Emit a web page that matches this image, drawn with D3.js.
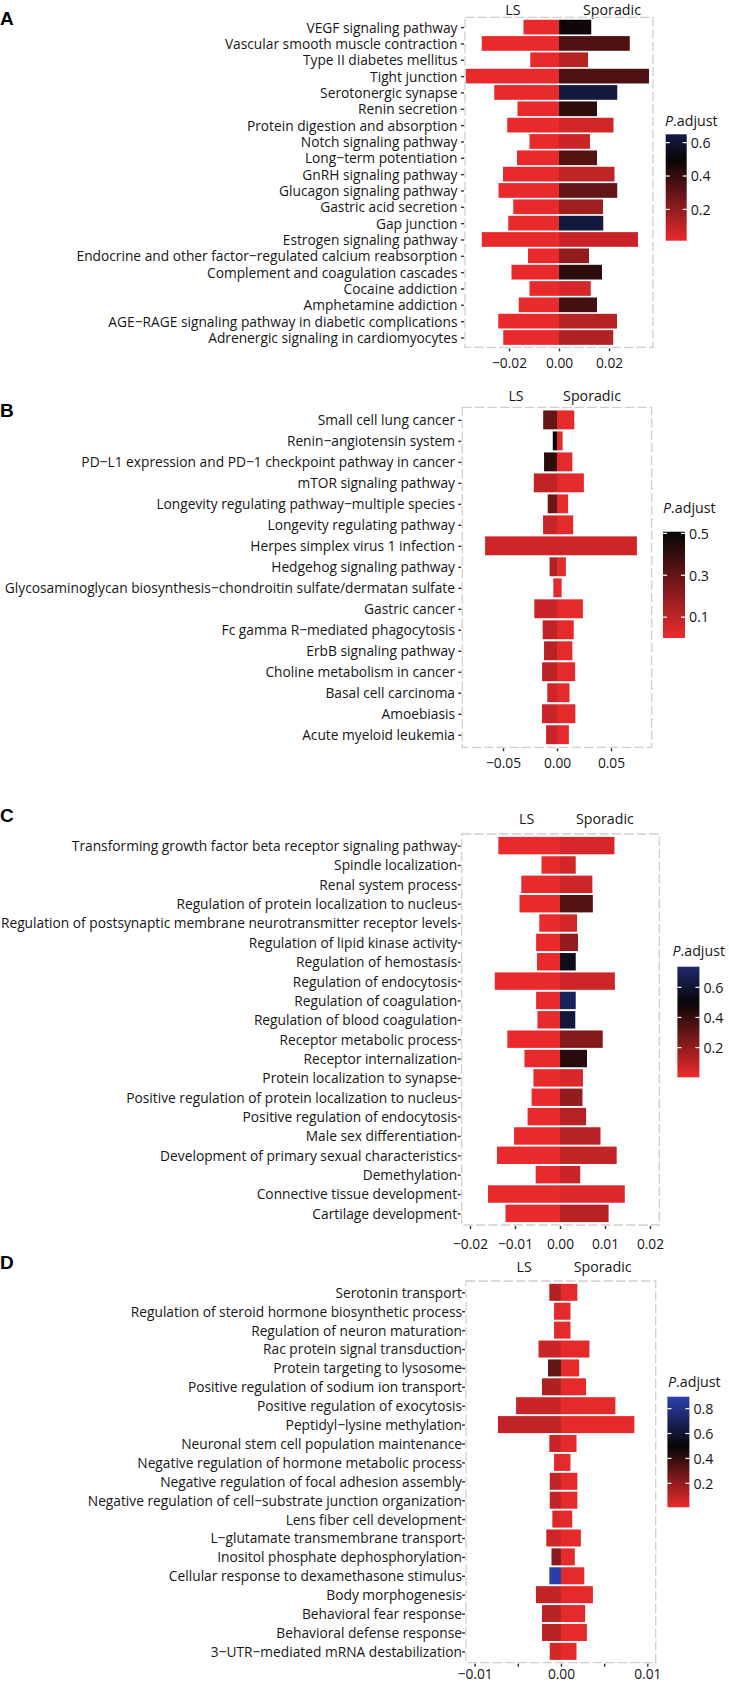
<!DOCTYPE html>
<html><head><meta charset="utf-8">
<script src="https://cdn.jsdelivr.net/npm/d3@7"></script>
<style>body{margin:0;background:#fff}svg{display:block}</style>
</head><body>
<svg id="chart" width="729" height="1683"></svg>
<script>
// ---------------- DATA ----------------
const catsA = ["VEGF signaling pathway","Vascular smooth muscle contraction","Type II diabetes mellitus","Tight junction","Serotonergic synapse","Renin secretion","Protein digestion and absorption","Notch signaling pathway","Long−term potentiation","GnRH signaling pathway","Glucagon signaling pathway","Gastric acid secretion","Gap junction","Estrogen signaling pathway","Endocrine and other factor−regulated calcium reabsorption","Complement and coagulation cascades","Cocaine addiction","Amphetamine addiction","AGE−RAGE signaling pathway in diabetic complications","Adrenergic signaling in cardiomyocytes"];
const lsA = [-0.0142,-0.0309,-0.0115,-0.0373,-0.0259,-0.0166,-0.0207,-0.0118,-0.0168,-0.0224,-0.0242,-0.0183,-0.0203,-0.0309,-0.0124,-0.0190,-0.0118,-0.0161,-0.0243,-0.0223];
const spA = [0.0129,0.0283,0.0116,0.0360,0.0233,0.0152,0.0218,0.0124,0.0152,0.0222,0.0233,0.0176,0.0177,0.0316,0.0120,0.0172,0.0127,0.0152,0.0232,0.0217];
const lsPadjA = [0.01,0.01,0.01,0.01,0.01,0.01,0.01,0.01,0.01,0.01,0.01,0.01,0.01,0.01,0.01,0.01,0.01,0.01,0.01,0.01];
const spPadjA = [0.48,0.35,0.12,0.35,0.63,0.42,0.06,0.08,0.33,0.10,0.30,0.17,0.63,0.08,0.20,0.42,0.05,0.37,0.12,0.13];
const ticksA = [-0.02,0,0.02];
const legendTicksA = [0.2,0.4,0.6];
const legendRangeA = [0.0125,0.65];

const catsB = ["Small cell lung cancer","Renin−angiotensin system","PD−L1 expression and PD−1 checkpoint pathway in cancer","mTOR signaling pathway","Longevity regulating pathway−multiple species","Longevity regulating pathway","Herpes simplex virus 1 infection","Hedgehog signaling pathway","Glycosaminoglycan biosynthesis−chondroitin sulfate/dermatan sulfate","Gastric cancer","Fc gamma R−mediated phagocytosis","ErbB signaling pathway","Choline metabolism in cancer","Basal cell carcinoma","Amoebiasis","Acute myeloid leukemia"];
const lsB = [-0.0128,-0.0039,-0.0120,-0.0215,-0.0086,-0.0129,-0.0666,-0.0069,-0.0034,-0.0210,-0.0133,-0.0120,-0.0138,-0.0090,-0.0139,-0.0101];
const spB = [0.0160,0.0052,0.0142,0.0249,0.0103,0.0150,0.0740,0.0082,0.0043,0.0240,0.0155,0.0142,0.0168,0.0116,0.0170,0.0110];
const lsPadjB = [0.30,0.50,0.42,0.10,0.28,0.08,0.07,0.13,0.03,0.08,0.10,0.12,0.11,0.07,0.08,0.08];
const spPadjB = [0.02,0.02,0.02,0.02,0.02,0.02,0.07,0.02,0.02,0.02,0.02,0.02,0.02,0.02,0.02,0.02];
const ticksB = [-0.05,0,0.05];
const legendTicksB = [0.1,0.3,0.5];
const legendRangeB = [0.0005,0.508];

const catsC = ["Transforming growth factor beta receptor signaling pathway","Spindle localization","Renal system process","Regulation of protein localization to nucleus","Regulation of postsynaptic membrane neurotransmitter receptor levels","Regulation of lipid kinase activity","Regulation of hemostasis","Regulation of endocytosis","Regulation of coagulation","Regulation of blood coagulation","Receptor metabolic process","Receptor internalization","Protein localization to synapse","Positive regulation of protein localization to nucleus","Positive regulation of endocytosis","Male sex differentiation","Development of primary sexual characteristics","Demethylation","Connective tissue development","Cartilage development"];
const lsC = [-0.0137,-0.0041,-0.0086,-0.0090,-0.0046,-0.0053,-0.0051,-0.0145,-0.0053,-0.0050,-0.0117,-0.0079,-0.0059,-0.0063,-0.0072,-0.0102,-0.0140,-0.0054,-0.0160,-0.0121];
const spC = [0.0121,0.0035,0.0072,0.0073,0.0038,0.0040,0.0035,0.0122,0.0035,0.0034,0.0095,0.0060,0.0051,0.0050,0.0058,0.0090,0.0126,0.0045,0.0144,0.0108];
const lsPadjC = [0.01,0.01,0.01,0.01,0.01,0.01,0.01,0.01,0.01,0.01,0.01,0.01,0.01,0.01,0.01,0.01,0.01,0.01,0.01,0.01];
const spPadjC = [0.05,0.06,0.07,0.33,0.06,0.20,0.55,0.07,0.70,0.62,0.23,0.43,0.05,0.20,0.12,0.12,0.10,0.08,0.04,0.12];
const ticksC = [-0.02,-0.01,0,0.01,0.02];
const legendTicksC = [0.2,0.4,0.6];
const legendRangeC = [0.003,0.737];

const catsD = ["Serotonin transport","Regulation of steroid hormone biosynthetic process","Regulation of neuron maturation","Rac protein signal transduction","Protein targeting to lysosome","Positive regulation of sodium ion transport","Positive regulation of exocytosis","Peptidyl−lysine methylation","Neuronal stem cell population maintenance","Negative regulation of hormone metabolic process","Negative regulation of focal adhesion assembly","Negative regulation of cell−substrate junction organization","Lens fiber cell development","L−glutamate transmembrane transport","Inositol phosphate dephosphorylation","Cellular response to dexamethasone stimulus","Body morphogenesis","Behavioral fear response","Behavioral defense response","3−UTR−mediated mRNA destabilization"];
const lsD = [-0.00135,-0.0008,-0.0008,-0.0026,-0.0015,-0.0022,-0.0052,-0.0073,-0.00135,-0.0008,-0.0013,-0.0013,-0.0010,-0.0017,-0.0011,-0.00135,-0.0029,-0.0022,-0.0022,-0.0013];
const spD = [0.0019,0.0011,0.0011,0.0033,0.0021,0.0029,0.0063,0.0085,0.0018,0.0011,0.0019,0.0019,0.0013,0.0023,0.0016,0.0027,0.0037,0.0028,0.0030,0.0018];
const lsPadjD = [0.13,0.03,0.03,0.08,0.30,0.14,0.08,0.10,0.08,0.03,0.10,0.10,0.04,0.07,0.22,0.88,0.10,0.12,0.12,0.06];
const spPadjD = [0.02,0.02,0.02,0.02,0.02,0.02,0.02,0.02,0.02,0.02,0.02,0.02,0.02,0.02,0.02,0.02,0.02,0.02,0.02,0.02];
const ticksD = [-0.01,-0.005,0,0.005,0.01];
const tickLabelsD = [-0.01,0,0.01];
const legendTicksD = [0.2,0.4,0.6,0.8];
const legendRangeD = [0.007,0.896];

const groupLabels = ["LS","Sporadic"];
const legendTitle = "adjust";

// ---------------- LAYOUT / STYLE ----------------
const FONT = "'Open Sans', 'Noto Sans', sans-serif";
const FS = 14.5;
const TXT = "#161616";
const color = d3.scaleLinear().domain([0,0.5,1]).range(["#EE2B2E","#080606","#374FDD"]).clamp(true);

const panels = [
  {letter:"A", cats:catsA, ls:lsA, sp:spA, lsP:lsPadjA, spP:spPadjA, ticks:ticksA, tickLabels:ticksA, lt:legendTicksA, lr:legendRangeA,
   left:465, right:653, top:17.3, bottom:347.3, dom:[-0.0376,0.0376], letterY:25, headY:15.3, hLS:0.255, hSp:0.782, tickY:368.5, gap:6.5,
   leg:{x:665.7, w:21, top:134.3, bottom:240.7, titleX:665, titleY:126}},
  {letter:"B", cats:catsB, ls:lsB, sp:spB, lsP:lsPadjB, spP:spPadjB, ticks:ticksB, tickLabels:ticksB, lt:legendTicksB, lr:legendRangeB,
   left:462.3, right:651.7, top:407.3, bottom:747.3, dom:[-0.0877,0.0877], letterY:416.7, headY:400.5, hLS:0.2835, hSp:0.685, tickY:768.5, gap:6.3,
   leg:{x:663, w:22, top:531.7, bottom:638, titleX:663, titleY:513}},
  {letter:"C", cats:catsC, ls:lsC, sp:spC, lsP:lsPadjC, spP:spPadjC, ticks:ticksC, tickLabels:ticksC, lt:legendTicksC, lr:legendRangeC,
   left:461.7, right:659.3, top:834, bottom:1225, dom:[-0.02184,0.02207], letterY:821.7, headY:823.5, hLS:0.329, hSp:0.725, tickY:1248.5, gap:3.5,
   leg:{x:677.4, w:22, top:966.7, bottom:1077.3, titleX:676, titleY:956}},
  {letter:"D", cats:catsD, ls:lsD, sp:spD, lsP:lsPadjD, spP:spPadjD, ticks:ticksD, tickLabels:tickLabelsD, lt:legendTicksD, lr:legendRangeD,
   left:466, right:655.7, top:1281, bottom:1662.7, dom:[-0.0110,0.01097], letterY:1269.3, headY:1271.5, hLS:0.307, hSp:0.7206, tickY:1678.6, gap:3,
   leg:{x:667.4, w:22, top:1396.7, bottom:1507.3, titleX:668, titleY:1387}}
];

const svg = d3.select("#chart");
svg.append("rect").attr("width",729).attr("height",1683).attr("fill","#fff");

// condensation factor measured from reference label width
const probe = svg.append("text").attr("font-family",FONT).attr("font-size",FS).attr("x",-2000).attr("y",-100)
  .text("Endocrine and other factor−regulated calcium reabsorption");
const K = 381 / probe.node().getComputedTextLength();
probe.remove();
function condense(sel){
  sel.each(function(){
    const w = this.getComputedTextLength();
    this.setAttribute("textLength", (w*K).toFixed(2));
    this.setAttribute("lengthAdjust","spacingAndGlyphs");
  });
}

const fmt2 = d3.format(".2f");
const fmt1 = d3.format(".1f");
const defs = svg.append("defs");

panels.forEach((p,pi)=>{
  const g = svg.append("g");
  const x = d3.scaleLinear().domain(p.dom).range([p.left,p.right]);
  const y = d3.scalePoint().domain(p.cats).range([p.top,p.bottom]).padding(0.6);
  const bh = y.step()*0.9;

  // panel letter
  g.append("text").attr("x",0).attr("y",p.letterY).attr("font-family","'Liberation Sans', Arial, sans-serif")
    .attr("font-weight","bold").attr("font-size",19).attr("fill","#000").text(p.letter);

  // headers
  const hdr = g.selectAll("text.hdr").data(groupLabels).join("text").attr("class","hdr")
    .attr("x",(d,i)=> p.left + (i===0?p.hLS:p.hSp)*(p.right-p.left))
    .attr("y",p.headY).attr("text-anchor","middle").attr("font-family",FONT).attr("font-size",FS+0.5)
    .attr("fill",TXT).text(d=>d);
  condense(hdr);

  // bars
  const rows = p.cats.map((c,i)=>({c, ls:p.ls[i], sp:p.sp[i], lsP:p.lsP[i], spP:p.spP[i]}));
  g.selectAll("rect.ls").data(rows).join("rect").attr("class","ls")
    .attr("x",d=>x(d.ls)).attr("width",d=>x(0)-x(d.ls))
    .attr("y",d=>y(d.c)-bh/2).attr("height",bh)
    .attr("fill",d=>color(d.lsP));
  g.selectAll("rect.sp").data(rows).join("rect").attr("class","sp")
    .attr("x",x(0)).attr("width",d=>x(d.sp)-x(0))
    .attr("y",d=>y(d.c)-bh/2).attr("height",bh)
    .attr("fill",d=>color(d.spP));

  // panel border (dashed)
  g.append("rect").attr("x",p.left).attr("y",p.top).attr("width",p.right-p.left).attr("height",p.bottom-p.top)
    .attr("fill","none").attr("stroke","#d0d0d0").attr("stroke-width",1.3).attr("stroke-dasharray","9.5,3");

  // y axis
  const ya = g.append("g").attr("transform",`translate(${p.left},0)`)
    .call(d3.axisLeft(y).tickSize(3).tickPadding(p.gap-2));
  ya.select(".domain").remove();
  ya.selectAll(".tick line").attr("stroke","#333").attr("stroke-width",1.4).attr("transform","translate(-1,0)");
  const yl = ya.selectAll(".tick text").attr("font-family",FONT).attr("font-size",FS).attr("fill",TXT).attr("dy","0.34em");
  condense(yl);

  // x axis
  const xa = g.append("g").attr("transform",`translate(0,${p.bottom})`)
    .call(d3.axisBottom(x).tickValues(p.ticks).tickSize(3).tickFormat(d=> p.tickLabels.includes(d)? fmt2(d):""));
  xa.select(".domain").remove();
  xa.selectAll(".tick line").attr("stroke","#333").attr("stroke-width",1.4).attr("transform","translate(0,1)");
  const xl = xa.selectAll(".tick text").attr("font-family",FONT).attr("font-size",FS).attr("fill",TXT)
    .attr("y",p.tickY-p.bottom).attr("dy",null);
  condense(xl);

  // legend
  const L = p.leg;
  const ls = d3.scaleLinear().domain(p.lr).range([L.bottom,L.top]);
  const gid = "grad"+pi;
  const grad = defs.append("linearGradient").attr("id",gid).attr("x1",0).attr("x2",0).attr("y1",1).attr("y2",0);
  d3.range(0,1.0001,0.05).forEach(t=>{
    const v = p.lr[0]+t*(p.lr[1]-p.lr[0]);
    grad.append("stop").attr("offset",t).attr("stop-color",color(v));
  });
  const tt = g.append("text").attr("x",L.titleX).attr("y",L.titleY).attr("font-family",FONT).attr("font-size",FS+0.5).attr("fill",TXT);
  tt.append("tspan").attr("font-style","italic").text("P");
  tt.append("tspan").text("."+legendTitle);
  tt.each(function(){
    const w=this.getComputedTextLength()*K;
    this.setAttribute("textLength",w.toFixed(2));
    this.setAttribute("lengthAdjust","spacingAndGlyphs");
    if (L.titleX + w > 725) this.setAttribute("x", (725 - w).toFixed(2));
  });
  g.append("rect").attr("x",L.x).attr("y",L.top).attr("width",L.w).attr("height",L.bottom-L.top).attr("fill",`url(#${gid})`);
  g.selectAll("line.lt").data(p.lt).join("line").attr("class","lt")
    .attr("x1",L.x+L.w-4).attr("x2",L.x+L.w).attr("y1",d=>ls(d)).attr("y2",d=>ls(d))
    .attr("stroke","#fff").attr("stroke-width",1.2);
  g.selectAll("line.lt2").data(p.lt).join("line").attr("class","lt2")
    .attr("x1",L.x).attr("x2",L.x+4).attr("y1",d=>ls(d)).attr("y2",d=>ls(d))
    .attr("stroke","#fff").attr("stroke-width",1.2);
  const lt = g.selectAll("text.ltl").data(p.lt).join("text").attr("class","ltl")
    .attr("x",L.x+L.w+4).attr("y",d=>ls(d)).attr("dy","0.35em")
    .attr("font-family",FONT).attr("font-size",FS+0.5).attr("fill",TXT).text(d=>fmt1(d));
  condense(lt);
});
</script>
</body></html>
